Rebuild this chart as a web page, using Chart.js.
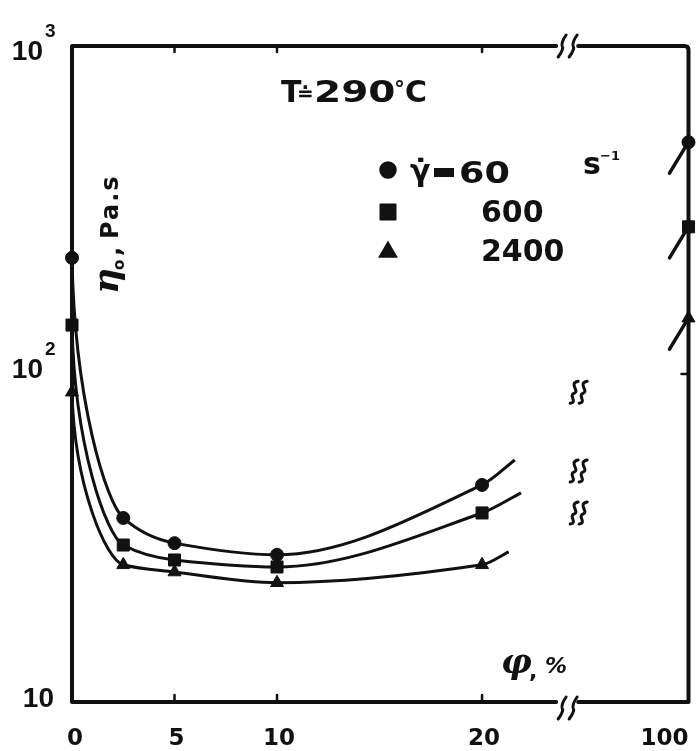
<!DOCTYPE html>
<html>
<head>
<meta charset="utf-8">
<script src="https://cdn.jsdelivr.net/npm/chart.js@4.4.1/dist/chart.umd.min.js"></script>
<style>
  html, body { margin: 0; padding: 0; background: #fff; }
  .wrap { width: 698px; height: 751px; }
</style>
</head>
<body>
<div class="wrap"><canvas id="etaChart" width="698" height="751"></canvas></div>
<script>
// phi, % (filler content) and zero shear viscosity eta0, Pa.s
const phiPoints = [0, 2.5, 5, 10, 20];
const eta60 = [226, 36.4, 30.5, 28.1, 45.9];
const eta600 = [141, 30.1, 27.1, 25.8, 37.7];
const eta2400 = [88, 26.2, 24.9, 23.1, 26.2];
// the curves run on a little past phi = 20
const curveEndPhi = [21.6, 21.9, 21.3];
const curveEndEta = [54.7, 43.4, 28.7];
// pure polymer, after the axis break
const phiPure = 100;
const etaPure = [509, 281, 148];

const rateLabels = ['60', '600', '2400'];
const xTicks = [0, 5, 10, 20, 100];
const yTicks = [10, 100, 1000];
const breakMarks = [88, 50.6, 37.7]; // little squiggles right of the cut

const BREAK_AT = 24.2;  // where the x axis is cut
const PURE_AT = 30.07;  // where phi = 100 lands on the shortened axis
function xPos(phi) { return phi > BREAK_AT ? PURE_AT : phi; }

const ink = '#111';
const shapes = ['circle', 'rect', 'triangle'];
const radii = [6.5, 8.5, 7.5];
const series = [eta60, eta600, eta2400];

const datasets = [];
series.forEach(function (vals, i) {
    const pts = phiPoints.map(function (p, j) { return {x: xPos(p), y: vals[j]}; });
    pts.push({x: curveEndPhi[i], y: curveEndEta[i]});
    datasets.push({
        label: rateLabels[i],
        data: pts,
        borderColor: ink,
        borderWidth: 3,
        pointStyle: shapes[i],
        pointRadius: pts.map(function (p, j) { return j < phiPoints.length ? radii[i] : 0; }),
        pointBackgroundColor: ink,
        pointBorderColor: ink,
        pointBorderWidth: 1,
        cubicInterpolationMode: 'monotone',
        clip: false
    });
});
datasets.push({
    label: 'phi = 100',
    data: etaPure.map(function (v) { return {x: xPos(phiPure), y: v}; }),
    showLine: false,
    pointStyle: shapes,
    pointRadius: radii,
    pointBackgroundColor: ink,
    pointBorderColor: ink,
    pointBorderWidth: 1,
    clip: false
});

// text drawn wider than the font gives, like the old lettering
function wideText(ctx, str, x, y, sx) {
    ctx.save();
    ctx.translate(x, y);
    ctx.scale(sx, 1);
    ctx.fillText(str, 0, 0);
    ctx.restore();
}

function squiggle(ctx, x, y) {
    ctx.beginPath();
    ctx.moveTo(x + 4, y - 11);
    ctx.bezierCurveTo(x - 6, y - 9, x + 6, y - 1, x, y + 1);
    ctx.bezierCurveTo(x - 6, y + 3, x + 4, y + 10, x - 4, y + 11);
    ctx.stroke();
}

function breakSlash(ctx, x, y) {
    ctx.beginPath();
    ctx.moveTo(x - 4, y + 11);
    ctx.quadraticCurveTo(x + 2, y + 3, x, y);
    ctx.quadraticCurveTo(x - 1, y - 4, x + 4, y - 11);
    ctx.stroke();
}

// hand drawn look: the curves leave phi = 0 straight down the axis and
// bend smoothly (harmonic mean slopes) through the rest of the points
const curvePlugin = {
    id: 'curves',
    beforeDatasetDraw(chart, args) {
        if (args.index >= series.length) return;
        const line = args.meta.dataset;
        line.updateControlPoints(chart.chartArea, 'x');
        const pts = args.meta.data;
        const n = pts.length;
        const d = [];
        for (let i = 0; i < n - 1; i++) {
            d.push((pts[i + 1].y - pts[i].y) / (pts[i + 1].x - pts[i].x));
        }
        const m = [];
        for (let i = 0; i < n; i++) {
            if (i === 0) m.push(d[0]);
            else if (i === n - 1) m.push(d[n - 2]);
            else if (d[i - 1] * d[i] <= 0) m.push(0);
            else m.push(2 * d[i - 1] * d[i] / (d[i - 1] + d[i]));
        }
        for (let i = 0; i < n; i++) {
            const p = pts[i];
            if (i > 0) {
                const h = (p.x - pts[i - 1].x) / 3;
                p.cp1x = p.x - h;
                p.cp1y = p.y - m[i] * h;
            }
            if (i < n - 1) {
                const h = (pts[i + 1].x - p.x) / 3;
                if (i === 0) {
                    p.cp2x = p.x + 0.15 * h;
                    p.cp2y = p.y + 0.55 * (pts[1].y - p.y);
                } else {
                    p.cp2x = p.x + h;
                    p.cp2y = p.y + m[i] * h;
                }
            }
        }
    }
};

const framePlugin = {
    id: 'frame',
    beforeDatasetsDraw(chart) {
        const ctx = chart.ctx, a = chart.chartArea;
        const x = chart.scales.x, y = chart.scales.y;
        const bx = x.getPixelForValue(BREAK_AT);
        ctx.save();
        ctx.strokeStyle = ink;
        ctx.lineWidth = 4;
        ctx.lineCap = 'round';
        ctx.lineJoin = 'round';
        ctx.beginPath();
        ctx.moveTo(bx - 12, a.top);
        ctx.lineTo(a.left, a.top);
        ctx.lineTo(a.left, a.bottom);
        ctx.lineTo(bx - 12, a.bottom);
        ctx.moveTo(bx + 10, a.top);
        ctx.lineTo(a.right - 4, a.top);
        ctx.quadraticCurveTo(a.right, a.top, a.right, a.top + 4);
        ctx.lineTo(a.right, a.bottom);
        ctx.lineTo(bx + 10, a.bottom);
        ctx.stroke();

        // axis cut marks
        ctx.lineWidth = 3;
        [a.top, a.bottom + 6].forEach(function (yy) {
            breakSlash(ctx, bx - 6, yy);
            breakSlash(ctx, bx + 5, yy);
        });

        // small inward ticks
        ctx.lineWidth = 2.5;
        ctx.beginPath();
        xTicks.forEach(function (t) {
            if (t === 0 || t > BREAK_AT) return;
            const px = x.getPixelForValue(t);
            ctx.moveTo(px, a.top);
            ctx.lineTo(px, a.top + 6);
            ctx.moveTo(px, a.bottom);
            ctx.lineTo(px, a.bottom - 7);
        });
        const p100 = y.getPixelForValue(100);
        ctx.moveTo(a.right, p100);
        ctx.lineTo(a.right - 7, p100);
        ctx.stroke();

        // squiggles beside the cut
        ctx.lineWidth = 3;
        breakMarks.forEach(function (v) {
            const py = y.getPixelForValue(v);
            squiggle(ctx, bx + 6, py);
            squiggle(ctx, bx + 15, py);
        });
        ctx.restore();
    },
    afterDatasetsDraw(chart) {
        const ctx = chart.ctx, a = chart.chartArea;
        const x = chart.scales.x, y = chart.scales.y;
        // short stubs running into the phi = 100 points
        const meta = chart.getDatasetMeta(datasets.length - 1);
        ctx.save();
        ctx.strokeStyle = ink;
        ctx.lineWidth = 3.5;
        ctx.lineCap = 'round';
        meta.data.forEach(function (pt) {
            ctx.beginPath();
            ctx.moveTo(pt.x - 19, pt.y + 31);
            ctx.lineTo(pt.x - 2, pt.y + 3);
            ctx.stroke();
        });

        ctx.fillStyle = ink;
        ctx.textBaseline = 'alphabetic';

        // x tick labels
        ctx.font = 'bold 23px "DejaVu Sans"';
        xTicks.forEach(function (t) {
            const px = x.getPixelForValue(xPos(t));
            if (t === 0) {
                ctx.textAlign = 'center';
                ctx.fillText('0', px + 3, 745);
            } else if (t > BREAK_AT) {
                ctx.textAlign = 'right';
                ctx.fillText(String(t), px, 745);
            } else {
                ctx.textAlign = 'center';
                ctx.fillText(String(t), px + 2, 745);
            }
        });

        // y tick labels, 10, 10^2, 10^3
        yTicks.forEach(function (t) {
            const py = y.getPixelForValue(t);
            const ex = Math.round(Math.log10(t));
            ctx.font = 'bold 28px "Liberation Sans"';
            ctx.textAlign = 'right';
            if (ex === 1) {
                ctx.fillText('10', 54, py + 5);
            } else {
                const base = Math.max(py + 4, a.top + 14);
                ctx.fillText('10', 43, base);
                ctx.textAlign = 'left';
                ctx.font = 'bold 19px "Liberation Sans"';
                ctx.fillText(String(ex), 45, base - 23);
            }
        });

        // y axis title
        ctx.save();
        ctx.translate(118, 294);
        ctx.rotate(-Math.PI / 2);
        ctx.textAlign = 'left';
        ctx.font = 'bold italic 36px "DejaVu Serif"';
        ctx.fillText('\u03B7', 0, 0);
        ctx.font = 'bold 15px "DejaVu Sans"';
        ctx.fillText('o', 24, 6);
        ctx.font = 'bold 24px "DejaVu Sans"';
        ctx.fillText(',', 38, 2);
        ctx.letterSpacing = '2px';
        ctx.fillText('Pa.s', 55, 0);
        ctx.restore();

        // x axis title
        ctx.textAlign = 'left';
        ctx.font = 'bold italic 34px "DejaVu Serif"';
        ctx.fillText('\u03C6', 501, 673);
        ctx.font = 'bold 22px "DejaVu Sans"';
        ctx.fillText(',', 529, 678);
        ctx.font = 'bold italic 22px "DejaVu Sans"';
        ctx.fillText('%', 545, 673);

        // temperature
        ctx.font = 'bold 30px "DejaVu Sans"';
        ctx.fillText('T', 281, 102);
        ctx.font = 'bold 20px "DejaVu Sans"';
        ctx.fillText('\u2250', 297, 100);
        ctx.font = 'bold 30px "DejaVu Sans"';
        wideText(ctx, '290', 314, 102, 1.3);
        ctx.font = 'bold 22px "DejaVu Sans"';
        ctx.fillText('\u00B0', 394, 96);
        ctx.font = 'bold 30px "DejaVu Sans"';
        ctx.fillText('C', 405, 102);

        // legend
        const mx = 388, rowY = [170, 212, 252], baseY = [183, 222, 261];
        shapes.forEach(function (s, i) {
            Chart.helpers.drawPoint(ctx, {
                pointStyle: s, radius: [7, 9.5, 8][i], rotation: 0, borderWidth: 1
            }, mx, rowY[i]);
            ctx.fill();
        });
        ctx.font = 'bold 30px "DejaVu Sans"';
        ctx.fillText('\u03B3\u0307', 410, 181);
        ctx.fillRect(434, 168, 20, 9);
        wideText(ctx, rateLabels[0], 459, baseY[0], 1.22);
        ctx.fillText(rateLabels[1], 481, baseY[1]);
        ctx.fillText(rateLabels[2], 481, baseY[2]);
        ctx.fillText('s', 583, 174);
        ctx.font = 'bold 13px "DejaVu Sans"';
        ctx.fillText('\u22121', 600, 160);
        ctx.restore();
    }
};

const etaChart = new Chart(document.getElementById('etaChart'), {
    type: 'line',
    data: { datasets: datasets },
    options: {
        responsive: false,
        animation: false,
        events: [],
        layout: { padding: { left: 72, right: 8, top: 46, bottom: 49 } },
        plugins: { legend: { display: false }, tooltip: { enabled: false } },
        scales: {
            x: { type: 'linear', min: 0, max: PURE_AT, display: false },
            y: { type: 'logarithmic', min: 10, max: 1000, display: false }
        }
    },
    plugins: [curvePlugin, framePlugin]
});
</script>
</body>
</html>
